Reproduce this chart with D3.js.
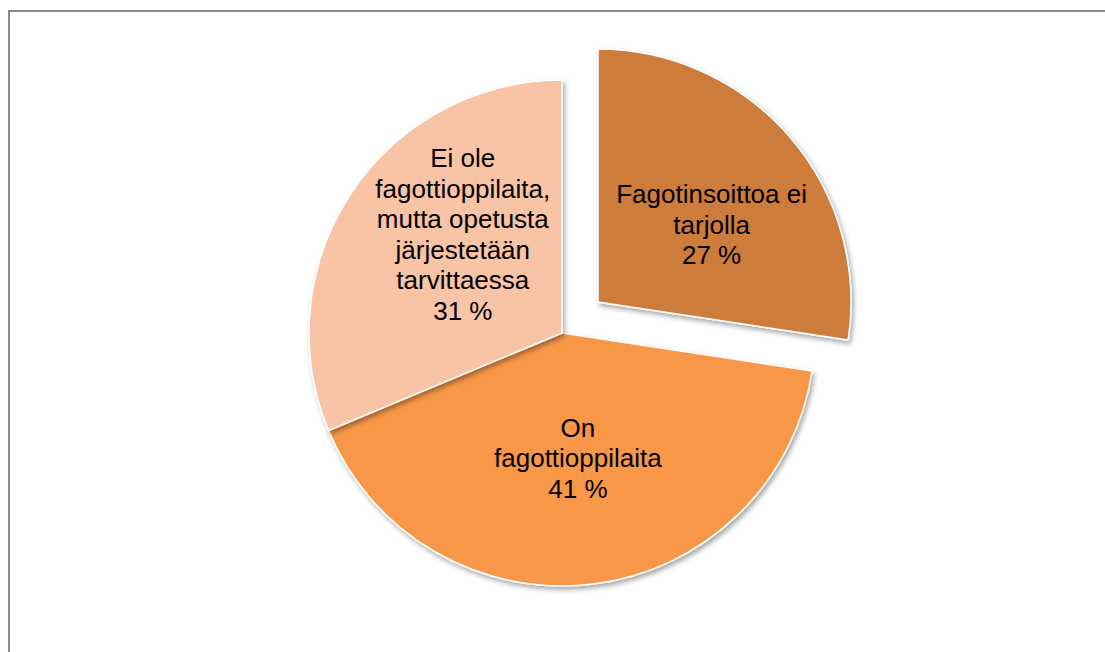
<html>
<head>
<meta charset="utf-8">
<script src="https://d3js.org/d3.v7.min.js"></script>
<style>
  body{margin:0;background:#fff;}
  text{font-family:"Liberation Sans",Arial,sans-serif;}
</style>
</head>
<body>
<script>
// data
const categories = ["Fagotinsoittoa ei tarjolla", "On fagottioppilaita", "Ei ole fagottioppilaita, mutta opetusta järjestetään tarvittaessa"];
const values = [27.4, 41.3, 31.3];
const pctLabels = ["27 %", "41 %", "31 %"];
const labelLines = [
  ["Fagotinsoittoa ei", "tarjolla"],
  ["On", "fagottioppilaita"],
  ["Ei ole", "fagottioppilaita,", "mutta opetusta", "järjestetään", "tarvittaessa"]
];
const colors = ["#CD7C3B", "#F79747", "#F9C3A6"];
const exploded = [true, false, false];

// layout
const W = 1105, H = 652;
const cx = 562, cy = 333, R = 253;
const explodeDist = 47.5;
const fontSize = 26, lineH = 30.5;
// small nudges from the arc centroid, like the labels in the original
const labelNudge = [[15, 7], [0, -4], [9, -27]];

const svg = d3.select("body").append("svg")
  .attr("width", W).attr("height", H);

const defs = svg.append("defs");
const f = defs.append("filter").attr("id", "shadow")
  .attr("x", "-10%").attr("y", "-10%").attr("width", "130%").attr("height", "130%");
f.append("feDropShadow")
  .attr("dx", 2).attr("dy", 3).attr("stdDeviation", 2.5)
  .attr("flood-color", "#000").attr("flood-opacity", 0.35);

// chart border (only left & top visible)
svg.append("rect")
  .attr("x", 9).attr("y", 11)
  .attr("width", 1300).attr("height", 1000)
  .attr("fill", "none")
  .attr("stroke", "#898989")
  .attr("stroke-width", 2);

const pie = d3.pie().sort(null).value(d => d)(values);
const arc = d3.arc().innerRadius(0).outerRadius(R);
const labelArc = d3.arc().innerRadius(130).outerRadius(130);

function offset(d, i) {
  if (!exploded[i]) return [0, 0];
  const a = (d.startAngle + d.endAngle) / 2;
  return [Math.sin(a) * explodeDist, -Math.cos(a) * explodeDist];
}

const g = svg.append("g").attr("transform", `translate(${cx},${cy})`);

g.selectAll("path.slice")
  .data(pie)
  .join("path")
  .attr("class", "slice")
  .attr("d", arc)
  .attr("transform", (d, i) => { const o = offset(d, i); return `translate(${o[0]},${o[1]})`; })
  .attr("fill", (d, i) => colors[i])
  .attr("stroke", "#fff")
  .attr("stroke-width", 1.5)
  .attr("filter", "url(#shadow)");

// labels
pie.forEach((d, i) => {
  const o = offset(d, i);
  const c = labelArc.centroid(d);
  const x = c[0] + o[0] + labelNudge[i][0];
  const y = c[1] + o[1] + labelNudge[i][1];
  const lines = labelLines[i].concat([pctLabels[i]]);
  const t = g.append("text")
    .attr("text-anchor", "middle")
    .attr("font-size", fontSize)
    .attr("fill", "#000");
  lines.forEach((ln, k) => {
    t.append("tspan")
      .attr("x", x)
      .attr("y", y - (lines.length - 1) / 2 * lineH + k * lineH + 9.3)
      .text(ln);
  });
});
</script>
</body>
</html>
